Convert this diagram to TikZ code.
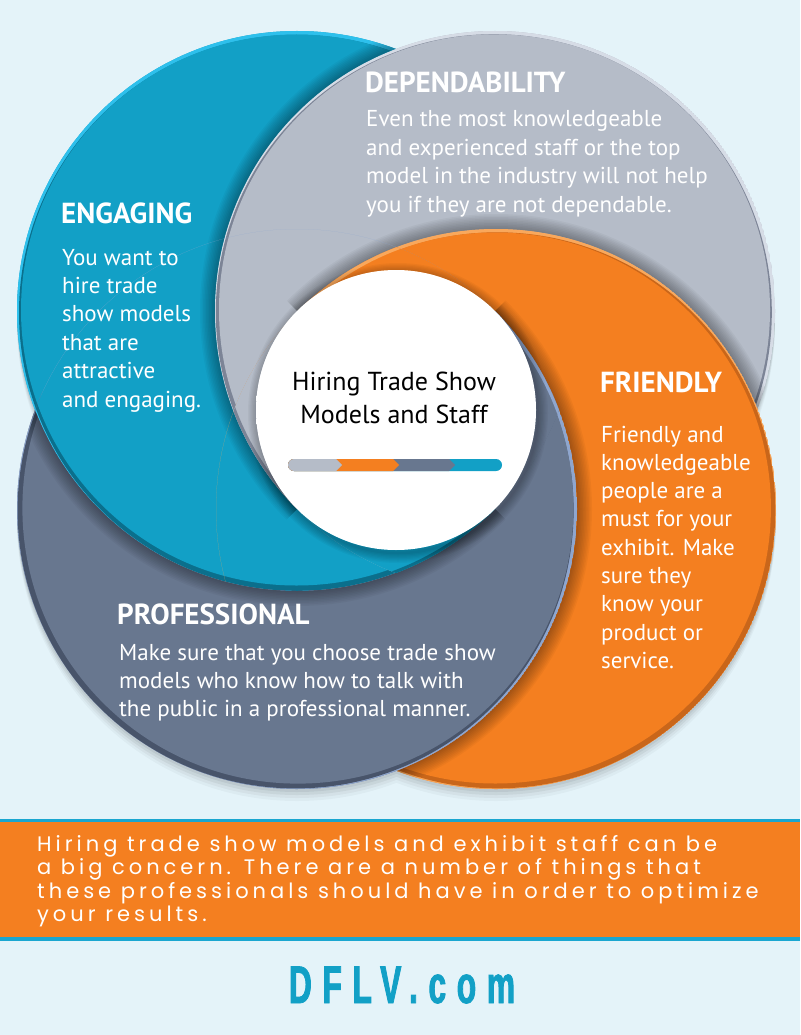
\documentclass[tikz,border=0pt]{standalone}
\usepackage{fontspec}
\usetikzlibrary{calc}
\setmainfont{PT Sans}
\newfontfamily\bodyfont{PT Sans}
\newfontfamily\headfont{PT Sans}
\newfontfamily\bannerfont{Poppins}[LetterSpace=19]
\newfontfamily\logofont{Liberation Sans}[LetterSpace=20,FakeStretch=0.6,FakeBold=1.5]
\definecolor{bg}{HTML}{E4F3F9}
\definecolor{cblue}{HTML}{12A0C6}
\definecolor{cbluelt}{HTML}{2EC0EC}
\definecolor{cbluedk}{HTML}{0B6F8C}
\definecolor{cgrey}{HTML}{B5BCC8}
\definecolor{cgreylt}{HTML}{D6DCE6}
\definecolor{cgreydk}{HTML}{7C8496}
\definecolor{corange}{HTML}{F47F20}
\definecolor{corangelt}{HTML}{F9A85C}
\definecolor{corangedk}{HTML}{C9661A}
\definecolor{cslate}{HTML}{68778F}
\definecolor{cslatelt}{HTML}{8FA6CE}
\definecolor{cslatedk}{HTML}{48546A}
\definecolor{cband}{HTML}{1AA6D0}
\pgfdeclareradialshading{whitelens}{\pgfpoint{6bp}{-6bp}}{color(0bp)=(white); color(38bp)=(white); color(62bp)=(black!22)}
\tikzset{
 head/.style={anchor=base west, inner sep=0pt, text=white, font=\headfont\bfseries\fontsize{29}{29}\selectfont},
 body/.style={anchor=base west, inner sep=0pt, text=white, font=\bodyfont\fontsize{23}{23}\selectfont},
 ctext/.style={anchor=base, inner sep=0pt, text=black, font=\bodyfont\fontsize{26}{26}\selectfont},
 bantext/.style={anchor=base west, inner sep=0pt, text=white, font=\bannerfont\fontsize{21}{21}\selectfont},
 logo/.style={anchor=base, inner sep=0pt, text=cblue, font=\logofont\bfseries\fontsize{53}{53}\selectfont},
 shadowline/.style={black,opacity=0.035},
 rim/.style={line width=6pt},
}
% plain crescent: #1 this disc, #2 disc lying over it, #3 colour
\newcommand\myplain[3]{%
 \begin{scope}[even odd rule]
 \clip (#1) circle[radius=280] (#2) circle[radius=280];
 \fill[#3] (#1) circle[radius=280];
 \end{scope}}
% #1 this disc, #2 disc lying over it, #3 light, #4 main, #5 dark,
% #6 dark offset, #7 main offset, #8 #9 tail wedge (no shadow there)
\newcommand\mycrescent[9]{%
 \begin{scope}[even odd rule]
 \clip (#1) circle[radius=280] (#2) circle[radius=280];
 \fill[#3] (#1) circle[radius=280];
 \fill[#5] ($(#1)+#6$) circle[radius=278];
 \fill[#4] ($(#1)+#7$) circle[radius=275.5];
 \begin{scope}
 \clip (#1) circle[radius=280];
 \clip (-10,-10) rectangle (810,1045) (W) -- ++#8 -- ++#9 -- cycle;
 \foreach \k in {1,...,10} \draw[shadowline,line width=3*\k] (#2) circle[radius=280];
 \end{scope}
 \end{scope}}
% tail: #1 colour, #2 #3 wedge, #4 disc whose edge bounds it, #5 rim colour
\newcommand\mytail[5]{%
 \begin{scope}
 \clip (W) -- ++#2 -- ++#3 -- cycle;
 \fill[#1] (W) -- ++#2 -- ++#3 -- cycle;
 \draw[rim,#5] (#4) circle[radius=280];
 \end{scope}}
\newcommand\alltails{%
 \begin{scope}
 \clip (B) circle[radius=280]; \clip (G) circle[radius=280];
 \clip (O) circle[radius=280]; \clip (S) circle[radius=280];
 \mytail{cgrey}{(-300,-300)}{(0,600)}{G}{cgreydk}
 \mytail{corange}{(-300,-300)}{(600,0)}{O}{corangelt}
 \mytail{cslate}{(300,-300)}{(0,600)}{S}{cslatelt}
 \mytail{cblue}{(-300,300)}{(600,0)}{B}{cbluedk}
 \end{scope}}
\begin{document}
\begin{tikzpicture}[x=1pt,y=-1pt]
\useasboundingbox (0,0) rectangle (800,1035);
\fill[bg] (0,0) rectangle (800,1035);
\coordinate (B) at (297,311);
\coordinate (G) at (495,311);
\coordinate (O) at (496,509);
\coordinate (S) at (297,509);
\coordinate (W) at (396,410);
% drop shadow
\foreach \d/\o in {3/0.06,6/0.05,9/0.04,12/0.03}{
 \fill[black,opacity=\o] ($(B)+(0,\d)$) circle[radius=280] ($(G)+(0,\d)$) circle[radius=280]
   ($(O)+(0,\d)$) circle[radius=280] ($(S)+(0,\d)$) circle[radius=280];
}
% plain base layer with the same outlines as the final regions
\myplain{B}{G}{cblue}
\myplain{G}{O}{cgrey}
\myplain{O}{S}{corange}
\myplain{S}{B}{cslate}
\alltails
% shaded crescents
\mycrescent{B}{G}{cbluelt}{cblue}{cbluedk}{(0,1.8)}{(-0.5,-1)}{(-300,300)}{(600,0)}
\mycrescent{G}{O}{cgreylt}{cgrey}{cgreydk}{(-1.2,1.2)}{(-0.5,-1.2)}{(-300,-300)}{(0,600)}
\mycrescent{O}{S}{corangelt}{corange}{corangedk}{(1.3,1.3)}{(-0.6,-1)}{(-300,-300)}{(600,0)}
\mycrescent{S}{B}{cslatelt}{cslate}{cslatedk}{(-1.4,1.4)}{(0.9,-0.9)}{(300,-300)}{(0,600)}
\alltails
% white centre
\begin{scope}[even odd rule]
\clip (W) circle[radius=140] (0,0) rectangle (800,1035);
\foreach \k in {1,...,8} \draw[black,opacity=0.035,line width=2.5*\k] ($(W)+(2,3)$) circle[radius=140];
\end{scope}
\shade[shading=whitelens] (W) circle[radius=140];
% centre title
\node[ctext] (t1) at (394,390) {Hiring Trade Show};
\node[ctext] (t2) at (394,423) {Models and Staff};
% bar
\begin{scope}
\clip[rounded corners=6] (288,459) rectangle (502,471);
\fill[cblue] (280,455) rectangle (510,475);
\fill[cslate] (280,459) -- (449,459) -- (455,465) -- (449,471) -- (280,471) -- cycle;
\fill[corange] (280,459) -- (393,459) -- (399,465) -- (393,471) -- (280,471) -- cycle;
\fill[cgrey] (280,459) -- (336,459) -- (342,465) -- (336,471) -- (280,471) -- cycle;
\end{scope}
% headings
\node[head] (hdep) at (365,93) {DEPENDABILITY};
\node[head] (heng) at (61,223) {ENGAGING};
\node[head] (hfri) at (600,392) {FRIENDLY};
\node[head] (hpro) at (117,624) {PROFESSIONAL};
% bodies
\foreach \t [count=\i] in {Even the most knowledgeable,and experienced staff or the top,model in the industry will not help,you if they are not dependable.}
 \node[body] (dep\i) at (366,{127+28.4*(\i-1)}) {\t};
\foreach \t [count=\i] in {You want to,hire trade,show models,that are,attractive,and engaging.}
 \node[body] (eng\i) at (62,{265+28.4*(\i-1)}) {\t};
\foreach \t [count=\i] in {Friendly and,knowledgeable,people are a,must for your,exhibit. Make,sure they,know your,product or,service.}
 \node[body] (fri\i) at (601,{442+28.33*(\i-1)}) {\t};
\foreach \t [count=\i] in {Make sure that you choose trade show,models who know how to talk with,the public in a professional manner.}
 \node[body] (pro\i) at (119,{660+28.4*(\i-1)}) {\t};
% banner
\fill[cband] (0,819) rectangle (800,941);
\fill[corange] (0,822) rectangle (800,937);
\foreach \t [count=\i] in {Hiring trade show models and exhibit staff can be,a big concern. There are a number of things that,these professionals should have in order to optimize,your results.}
 \node[bantext] (ban\i) at (37,{851+23.5*(\i-1)}) {\t};
% logo
\node[logo] (logo) at (402,1003) {DFLV.com};
\end{tikzpicture}
\end{document}
